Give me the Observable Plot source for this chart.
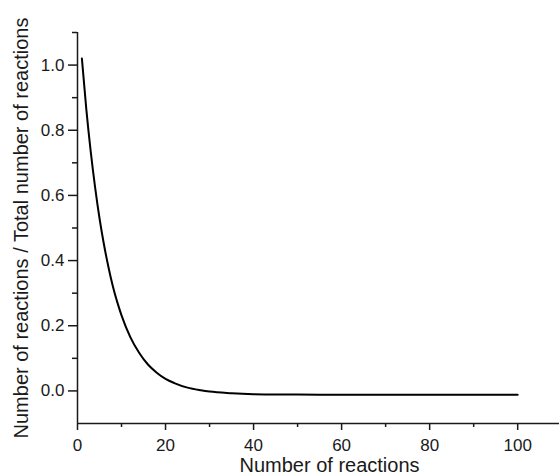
<!DOCTYPE html>
<html>
<head>
<meta charset="utf-8">
<script src="https://cdn.jsdelivr.net/npm/d3@7"></script>
<script src="https://cdn.jsdelivr.net/npm/@observablehq/plot@0.6"></script>
<style>
  html, body { margin: 0; padding: 0; background: #fff; }
</style>
</head>
<body>
<div id="chart"></div>
<script>
// Data
const reactions = [1, 2, 3, 4, 5, 6, 7, 8, 9, 10, 12, 14, 16, 18, 20, 22, 25, 28, 30, 35, 40, 45, 50, 60, 70, 80, 90, 100];
const fraction  = [1.02, 0.865, 0.735, 0.625, 0.53, 0.45, 0.382, 0.323, 0.274, 0.232, 0.165, 0.117, 0.081, 0.056, 0.037, 0.024, 0.010, 0.002, -0.002, -0.007, -0.010, -0.011, -0.011, -0.012, -0.012, -0.012, -0.012, -0.012];

const xMajorTicks = [0, 20, 40, 60, 80, 100];
const xMinorTicks = [10, 30, 50, 70, 90];
const yMajorTicks = [0, 0.2, 0.4, 0.6, 0.8, 1.0];
const yMinorTicks = [0.1, 0.3, 0.5, 0.7, 0.9, 1.1];

const xLabel = "Number of reactions";
const yLabel = "Number of reactions / Total number of reactions";

const data = reactions.map((r, i) => ({ r, f: fraction[i] }));

const chart = Plot.plot({
  width: 559,
  height: 476,
  marginLeft: 77,
  marginRight: 0,
  marginTop: 32,
  marginBottom: 53,
  x: { domain: [0, 109.5] },
  y: { domain: [-0.1, 1.1] },
  style: { fontFamily: "'Liberation Sans', Arial, sans-serif", fontSize: "17px", color: "#1a1a1a", background: "#fff" },
  marks: [
    Plot.axisY(yMajorTicks, { tickSize: 9, tickPadding: 4, tickFormat: d3.format(".1f"), fontSize: 17, label: null, strokeWidth: 1.5 }),
    Plot.axisY(yMinorTicks, { tickSize: 5, tickFormat: () => "", label: null, strokeWidth: 1.5 }),
    Plot.axisX(xMajorTicks, { tickSize: 7, tickPadding: 8, tickFormat: d3.format("d"), fontSize: 17, label: null, strokeWidth: 1.5 }),
    Plot.axisX(xMinorTicks, { tickSize: 4, tickFormat: () => "", label: null, strokeWidth: 1.5 }),
    Plot.ruleX([0], { stroke: "#1a1a1a", strokeWidth: 1.5 }),
    Plot.ruleY([-0.1], { stroke: "#1a1a1a", strokeWidth: 1.5 }),
    Plot.line(data, { x: "r", y: "f", stroke: "#000", strokeWidth: 2, curve: "monotone-x" }),
    Plot.text([yLabel], { frameAnchor: "left", textAnchor: "middle", lineAnchor: "middle", rotate: -90, dx: -55.5, fontSize: 20, fill: "#1a1a1a" }),
    Plot.text([xLabel], { frameAnchor: "bottom", lineAnchor: "middle", dy: 42, dx: 11, fontSize: 20, fill: "#1a1a1a" })
  ]
});

document.getElementById("chart").appendChild(chart);
</script>
</body>
</html>
